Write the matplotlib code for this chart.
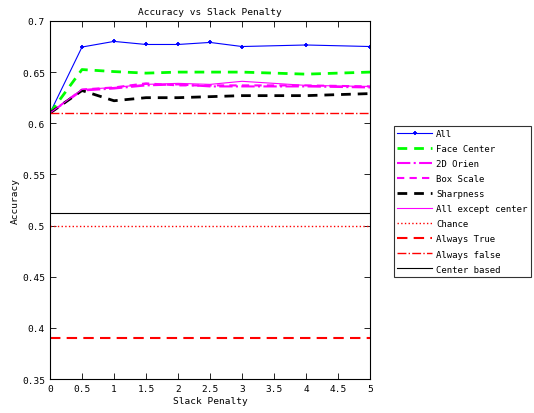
import matplotlib
matplotlib.use('Agg')
from matplotlib import pyplot as plt

# slack penalty values
slack = [0, 0.5, 1, 1.5, 2, 2.5, 3, 4, 5]

acc_all = [0.610, 0.6745, 0.680, 0.677, 0.677, 0.679, 0.675, 0.6765, 0.675]
acc_face = [0.610, 0.6525, 0.6505, 0.649, 0.650, 0.650, 0.650, 0.648, 0.650]
acc_orien = [0.610, 0.632, 0.634, 0.637, 0.638, 0.636, 0.636, 0.636, 0.635]
acc_box = [0.610, 0.633, 0.635, 0.639, 0.637, 0.637, 0.637, 0.637, 0.636]
acc_sharp = [0.610, 0.632, 0.622, 0.625, 0.625, 0.626, 0.627, 0.627, 0.629]
acc_except = [0.610, 0.633, 0.635, 0.638, 0.639, 0.638, 0.641, 0.637, 0.636]

chance = 0.5
always_true = 0.39
always_false = 0.61
center_based = 0.512

plt.rcParams['font.family'] = ['DejaVu Sans Mono']
fig = plt.figure(figsize=(5.34, 4.14), dpi=100)
ax = fig.add_axes([0.0936, 0.082, 0.5994, 0.865])

ends = [slack[0], slack[-1]]
ax.plot(slack, acc_all, c='#0000ff', lw=0.8, marker='+', ms=3, mew=1.3, label='All')
ax.plot(slack, acc_face, c='#00ff00', lw=2, ls=(0, (3.5, 2.5)), label='Face Center')
ax.plot(slack, acc_orien, c='#ff00ff', lw=1.5, ls='-.', label='2D Orien')
ax.plot(slack, acc_box, c='#ff00ff', lw=1.5, ls=(0, (3.5, 2.5)), label='Box Scale')
ax.plot(slack, acc_sharp, c='black', lw=2, ls=(0, (3.5, 2.5)), label='Sharpness')
ax.plot(slack, acc_except, c='#ff00ff', lw=0.8, label='All except center')
ax.plot(ends, [chance] * 2, c='#ff0000', lw=1, ls=':', label='Chance')
ax.plot(ends, [always_true] * 2, c='#ff0000', lw=1.5, ls=(0, (5, 3)), label='Always True')
ax.plot(ends, [always_false] * 2, c='#ff0000', lw=1, ls='-.', label='Always false')
ax.plot(ends, [center_based] * 2, c='black', lw=0.8, label='Center based')

ax.set_xlim(0, 5)
ax.set_ylim(0.35, 0.7)
ax.set_xticks([0, 0.5, 1, 1.5, 2, 2.5, 3, 3.5, 4, 4.5, 5])
ax.set_xticklabels(['0', '0.5', '1', '1.5', '2', '2.5', '3', '3.5', '4', '4.5', '5'])
ax.set_yticks([0.35, 0.4, 0.45, 0.5, 0.55, 0.6, 0.65, 0.7])
ax.set_yticklabels(['0.35', '0.4', '0.45', '0.5', '0.55', '0.6', '0.65', '0.7'])
ax.tick_params(direction='in', top=True, right=True, labelsize=6.8, length=4, width=0.6)
for s in ax.spines.values():
    s.set_linewidth(0.8)

ax.set_title('Accuracy vs Slack Penalty', fontsize=6.8, pad=5)
ax.set_xlabel('Slack Penalty', fontsize=6.8, labelpad=2)
ax.set_ylabel('Accuracy', fontsize=6.8, labelpad=2)

leg = fig.legend(loc='upper left', bbox_to_anchor=(394 / 534, 1 - 127 / 414),
                 fontsize=6.5, frameon=True, fancybox=False, handlelength=3.9,
                 handletextpad=0.4, labelspacing=0.67, borderpad=0.35,
                 borderaxespad=0)
leg.get_frame().set_edgecolor('black')
leg.get_frame().set_linewidth(0.8)

fig.savefig('out.png', dpi=100)
